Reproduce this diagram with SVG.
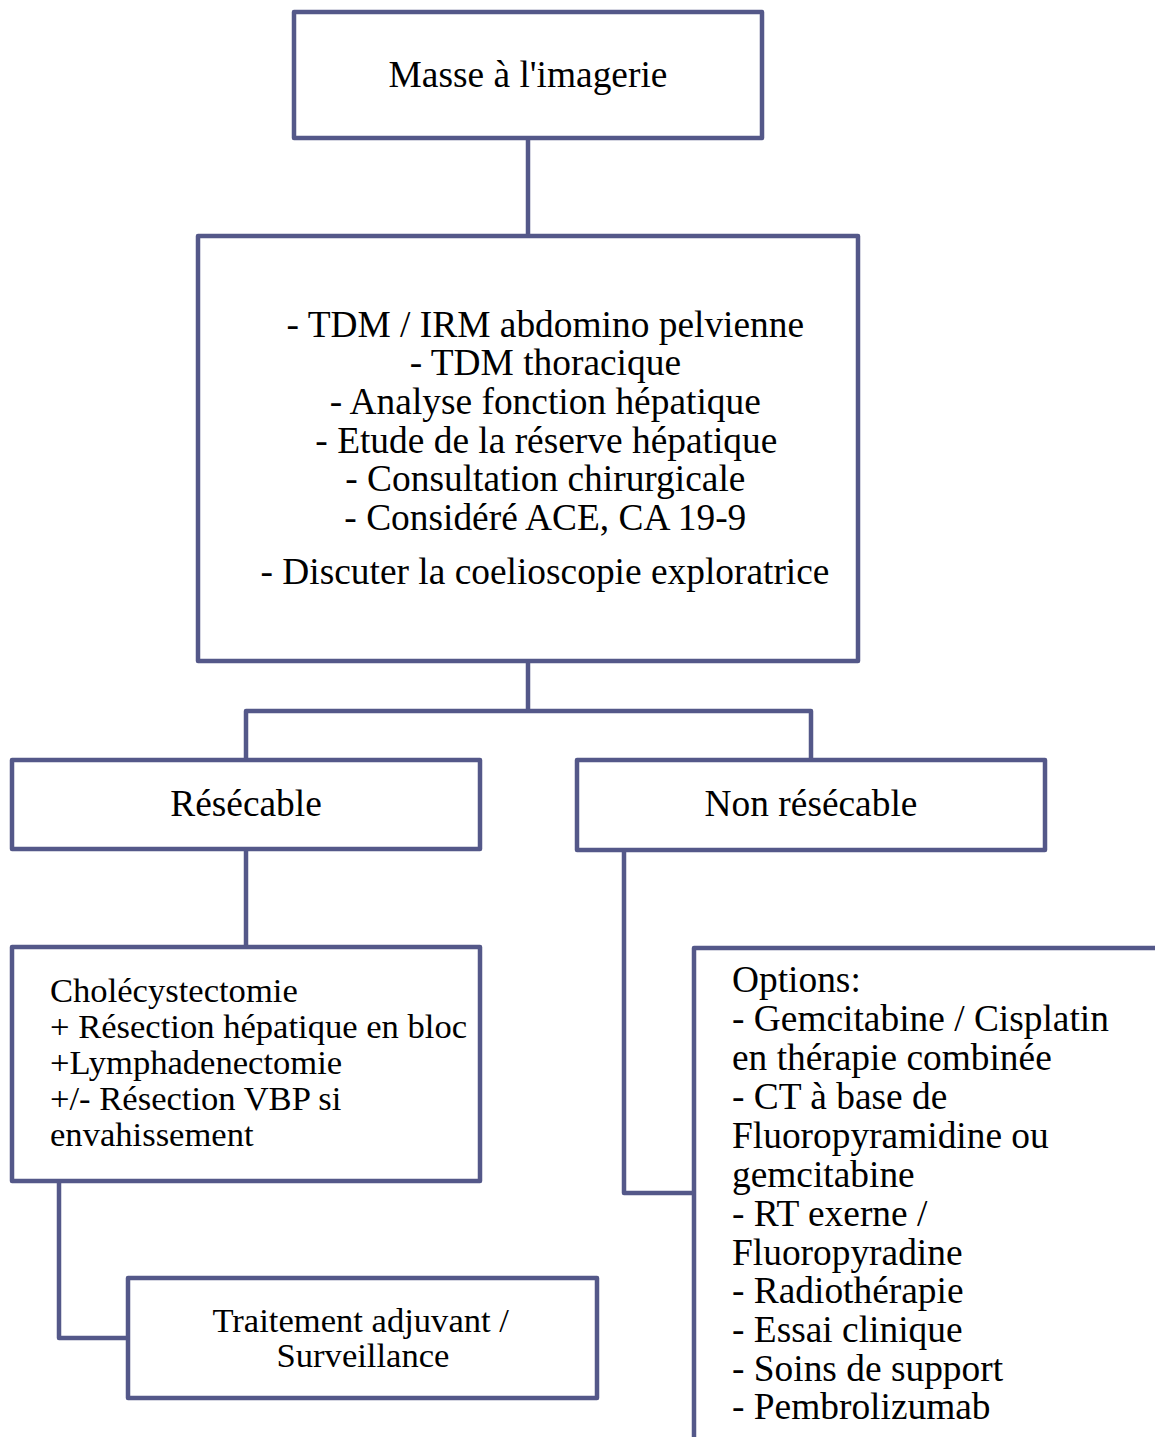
<svg xmlns="http://www.w3.org/2000/svg" width="1155" height="1437" viewBox="0 0 1155 1437">
<style>
.box{fill:#fff;stroke:#545889;stroke-width:4.5;stroke-linejoin:round}
.conn{fill:none;stroke:#545889;stroke-width:4.5;stroke-linejoin:round}
text{font-family:"Liberation Serif","Times New Roman",serif;fill:#000}
.t33{font-size:37.4px}
.t30{font-size:34.6px}
.c{text-anchor:middle}
</style>
<rect width="1155" height="1437" fill="#fff"/>
<g id="connectors">
<path class="conn" d="M528 138V236"/>
<path class="conn" d="M528 661V711M246 760V711H811V760"/>
<path class="conn" d="M246 849V947"/>
<path class="conn" d="M59 1181V1338H128"/>
<path class="conn" d="M624 850V1193H694"/>
</g>
<g id="n1">
<rect class="box" x="294" y="12" width="468" height="126"/>
<text class="t33 c" x="528" y="87">Masse à l'imagerie</text>
</g>
<g id="n2">
<rect class="box" x="198" y="236" width="660" height="425"/>
<text class="t33 c" x="550">
<tspan x="550" y="337">- TDM / IRM abdomino pelvienne</tspan>
<tspan x="550" y="375">- TDM thoracique</tspan>
<tspan x="550" y="414">- Analyse fonction hépatique</tspan>
<tspan x="551" y="453">- Etude de la réserve hépatique</tspan>
<tspan x="550" y="491">- Consultation chirurgicale</tspan>
<tspan x="550" y="530">- Considéré ACE, CA 19-9</tspan>
<tspan x="545" y="584">- Discuter la coelioscopie exploratrice</tspan>
</text>
</g>
<g id="n3">
<rect class="box" x="12" y="760" width="468" height="89"/>
<text class="t33 c" x="246" y="816">Résécable</text>
</g>
<g id="n4">
<rect class="box" x="577" y="760" width="468" height="90"/>
<text class="t33 c" x="811" y="816">Non résécable</text>
</g>
<g id="n5">
<rect class="box" x="12" y="947" width="468" height="234"/>
<text class="t30">
<tspan x="50" y="1002">Cholécystectomie</tspan>
<tspan x="50" y="1038">+ Résection hépatique en bloc</tspan>
<tspan x="50" y="1074">+Lymphadenectomie</tspan>
<tspan x="50" y="1110">+/- Résection VBP si</tspan>
<tspan x="50" y="1146">envahissement</tspan>
</text>
</g>
<g id="n6">
<rect class="box" x="128" y="1278" width="469" height="120"/>
<text class="t30 c">
<tspan x="365" y="1332">Traitement adjuvant /</tspan>
<tspan x="363" y="1367">Surveillance</tspan>
</text>
</g>
<g id="n7">
<rect class="box" x="694" y="948" width="500" height="520"/>
<text class="t33">
<tspan x="732" y="992">Options:</tspan>
<tspan x="732" y="1031">- Gemcitabine / Cisplatin</tspan>
<tspan x="732" y="1070">en thérapie combinée</tspan>
<tspan x="732" y="1109">- CT à base de</tspan>
<tspan x="732" y="1148">Fluoropyramidine ou</tspan>
<tspan x="732" y="1187">gemcitabine</tspan>
<tspan x="732" y="1226">- RT exerne /</tspan>
<tspan x="732" y="1265">Fluoropyradine</tspan>
<tspan x="732" y="1303">- Radiothérapie</tspan>
<tspan x="732" y="1342">- Essai clinique</tspan>
<tspan x="732" y="1381">- Soins de support</tspan>
<tspan x="732" y="1419">- Pembrolizumab</tspan>
</text>
</g>
</svg>
